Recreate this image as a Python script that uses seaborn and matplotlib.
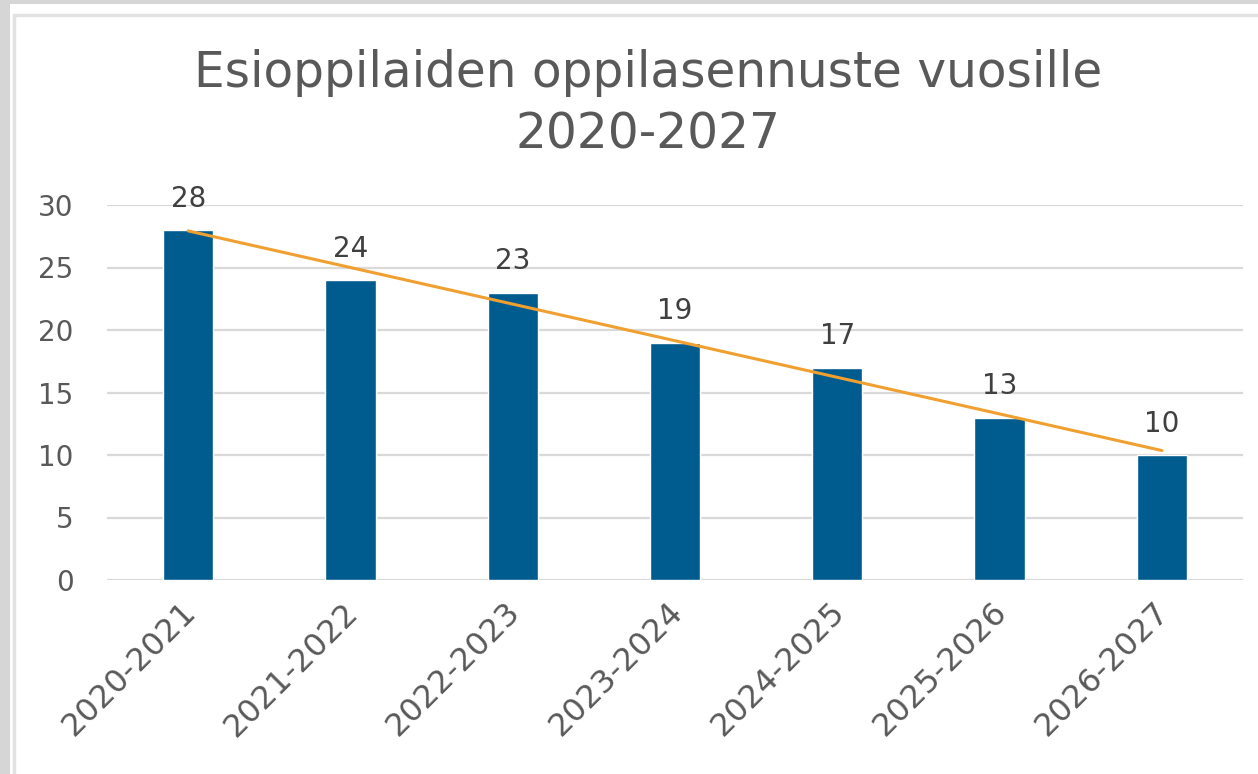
import numpy as np
import pandas as pd
import matplotlib
matplotlib.use('Agg')
import matplotlib.pyplot as plt
import matplotlib.transforms as mtransforms
import seaborn as sns
from matplotlib.patches import Rectangle

years = ['2020-2021', '2021-2022', '2022-2023', '2023-2024',
         '2024-2025', '2025-2026', '2026-2027']
pupils = [28, 24, 23, 19, 17, 13, 10]
title = 'Esioppilaiden oppilasennuste vuosille\n2020-2027'

sns.set_theme(style='white')
plt.rcParams['font.family'] = ['DejaVu Sans']

W, H = 1258, 774
fig = plt.figure(figsize=(W / 100, H / 100), dpi=100, facecolor='white')

# outer gray frame and inner light border (screenshot look)
fig.patches.append(Rectangle((0, 1 - 4 / H), 1, 4 / H, transform=fig.transFigure,
                             facecolor='#d6d6d6', edgecolor='none', zorder=0))
fig.patches.append(Rectangle((0, 0), 10 / W, 1, transform=fig.transFigure,
                             facecolor='#d6d6d6', edgecolor='none', zorder=0))
fig.patches.append(Rectangle((14 / W, -0.05), 1.1, 1 - 15 / H + 0.05, transform=fig.transFigure,
                             facecolor='white', edgecolor='#e2e2e2', linewidth=2.5, zorder=0))

ax = fig.add_axes([107 / W, 1 - 580 / H, 1136 / W, 375 / H])
ax.set_zorder(5)
ax.set_facecolor('none')

df = pd.DataFrame({'year': years, 'pupils': pupils})
sns.barplot(data=df, x='year', y='pupils', color='#005b8f', width=0.31,
            saturation=1, ax=ax, zorder=2)

x = np.arange(len(pupils))
slope, intercept = np.polyfit(x, pupils, 1)
sns.lineplot(x=x, y=slope * x + intercept, color='#f0a030', linewidth=2.2, ax=ax, zorder=3)

for i, v in enumerate(pupils):
    ax.text(i, v + 1.85, str(v), ha='center', va='baseline', fontsize=20, color='#404040')

ax.set_ylim(0, 30)
ax.set_xlim(-0.5, len(years) - 0.5)
ax.set_yticks(range(0, 31, 5))
ax.yaxis.grid(True, color='#d9d9d9', linewidth=1.6, zorder=0)
ax.set_axisbelow(True)
for s in ax.spines.values():
    s.set_visible(False)
ax.tick_params(axis='both', length=0, colors='#595959')
ax.tick_params(axis='y', pad=24, labelsize=20)
ax.set_xticks(x)
ax.set_xticklabels(years, rotation=45, ha='right', rotation_mode='anchor')
ax.tick_params(axis='x', pad=12, labelsize=23)
shift = mtransforms.ScaledTranslation(-8 / 100, 0, fig.dpi_scale_trans)
for lab in ax.get_xticklabels():
    lab.set_transform(lab.get_transform() + shift)
ax.set_xlabel('')
ax.set_ylabel('')

fig.text(0.515, 1 - 104 / H, title, ha='center', va='center', fontsize=35,
         color='#595959', linespacing=1.36, zorder=6)

plt.savefig('out.png', dpi=100, facecolor=fig.get_facecolor())
